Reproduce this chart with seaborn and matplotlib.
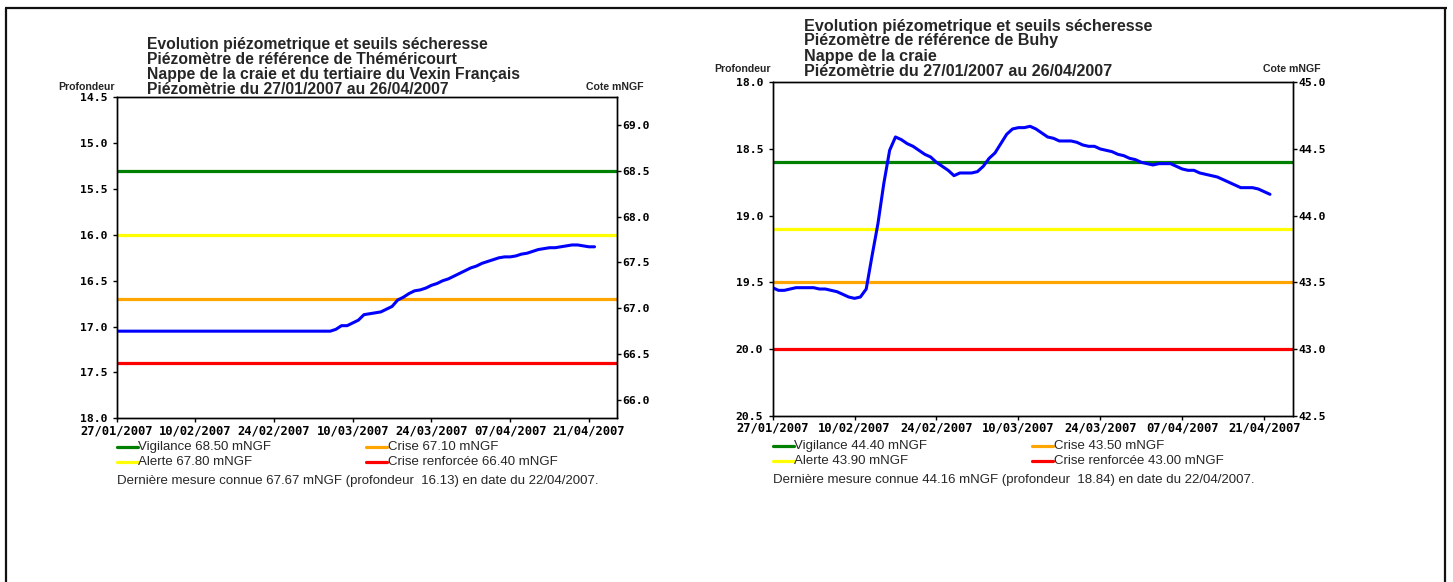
import numpy as np
import pandas as pd
import matplotlib
matplotlib.use("Agg")
import matplotlib.pyplot as plt
from matplotlib.lines import Line2D
import seaborn as sns

# ---------------------------------------------------------------- data
period_start = "2007-01-27"
period_end = "2007-04-26"
tick_labels = ["27/01/2007", "10/02/2007", "24/02/2007", "10/03/2007",
               "24/03/2007", "07/04/2007", "21/04/2007"]

threshold_names = ["Vigilance", "Crise", "Alerte", "Crise renforcée"]
threshold_colors = ["#008000", "#ffa500", "#ffff00", "#ff0000"]

# Théméricourt (cote mNGF = reference level - profondeur)
them_title = ["Evolution piézometrique et seuils sécheresse",
              "Piézomètre de référence de Théméricourt",
              "Nappe de la craie et du tertiaire du Vexin Français",
              "Piézomètrie du 27/01/2007 au 26/04/2007"]
them_ref = 83.80
them_thresholds = [68.50, 67.10, 67.80, 66.40]
them_days = [0, 38, 39, 40, 41, 42, 43, 44, 45, 46, 47, 48, 49, 50, 51, 52,
             53, 54, 55, 56, 57, 58, 59, 60, 61, 62, 63, 64, 65, 66, 67, 68,
             69, 70, 71, 72, 73, 74, 75, 76, 77, 78, 79, 80, 81, 82, 83, 84, 85]
them_depth = [17.05, 17.05, 17.03, 16.99, 16.99, 16.96, 16.93, 16.87, 16.86,
              16.85, 16.84, 16.81, 16.78, 16.71, 16.68, 16.64, 16.61, 16.60,
              16.58, 16.55, 16.53, 16.50, 16.48, 16.45, 16.42, 16.39, 16.36,
              16.34, 16.31, 16.29, 16.27, 16.25, 16.24, 16.24, 16.23, 16.21,
              16.20, 16.18, 16.16, 16.15, 16.14, 16.14, 16.13, 16.12, 16.11,
              16.11, 16.12, 16.13, 16.13]
them_depth_lim = (14.5, 18.0)
them_depth_ticks = [14.5, 15.0, 15.5, 16.0, 16.5, 17.0, 17.5, 18.0]
them_cote_ticks = [66.0, 66.5, 67.0, 67.5, 68.0, 68.5, 69.0]

# Buhy
buhy_title = ["Evolution piézometrique et seuils sécheresse",
              "Piézomètre de référence de Buhy",
              "Nappe de la craie",
              "Piézomètrie du 27/01/2007 au 26/04/2007"]
buhy_ref = 63.00
buhy_thresholds = [44.40, 43.50, 43.90, 43.00]
buhy_days = list(range(0, 86))
buhy_depth = [19.54, 19.56, 19.56, 19.55, 19.54, 19.54, 19.54, 19.54, 19.55,
              19.55, 19.56, 19.57, 19.59, 19.61, 19.62, 19.61, 19.55, 19.30,
              19.06, 18.76, 18.51, 18.41, 18.43, 18.46, 18.48, 18.51, 18.54,
              18.56, 18.60, 18.63, 18.66, 18.70, 18.68, 18.68, 18.68, 18.67,
              18.63, 18.57, 18.53, 18.46, 18.39, 18.35, 18.34, 18.34, 18.33,
              18.35, 18.38, 18.41, 18.42, 18.44, 18.44, 18.44, 18.45, 18.47,
              18.48, 18.48, 18.50, 18.51, 18.52, 18.54, 18.55, 18.57, 18.58,
              18.60, 18.61, 18.62, 18.61, 18.61, 18.61, 18.63, 18.65, 18.66,
              18.66, 18.68, 18.69, 18.70, 18.71, 18.73, 18.75, 18.77, 18.79,
              18.79, 18.79, 18.80, 18.82, 18.84]
buhy_depth_lim = (18.0, 20.5)
buhy_depth_ticks = [18.0, 18.5, 19.0, 19.5, 20.0, 20.5]
buhy_cote_ticks = [42.5, 43.0, 43.5, 44.0, 44.5, 45.0]

# ---------------------------------------------------------------- style
sns.set_style("ticks")
plt.rcParams["font.family"] = ["Liberation Sans", "DejaVu Sans"]

W, H = 1453, 582
fig = plt.figure(figsize=(W / 100, H / 100), dpi=100)
fig.patch.set_facecolor("white")


def fx(px):
    return px / W


def fy(py):
    return 1 - py / H


XTICK_FONT = dict(family="DejaVu Sans Mono", weight="bold", size=8.7)
YTICK_FONT = dict(family="DejaVu Sans Mono", weight="bold", size=8.2)
LABEL_FONT = dict(family=["Liberation Sans", "DejaVu Sans"], weight="bold",
                  size=7.6)
LEGEND_SIZE = 9.5


def draw_panel(box, title, title_xy, title_size, ref, thresholds, days, depth,
               depth_lim, depth_ticks, cote_ticks, legend_xy, legend_col2):
    x0, x1, top, bottom = box
    ax = fig.add_axes([fx(x0), fy(bottom), fx(x1) - fx(x0), fy(top) - fy(bottom)])

    dates = pd.to_datetime(period_start) + pd.to_timedelta(days, unit="D")
    df = pd.DataFrame({"date": dates, "profondeur": depth})

    # drought thresholds, converted to depth
    for cote, color in zip(thresholds, threshold_colors):
        ax.axhline(ref - cote, color=color, lw=2.3, zorder=2)

    sns.lineplot(data=df, x="date", y="profondeur", ax=ax, color="#0000ff",
                 lw=2.2, zorder=3)

    ax.set_xlim(pd.Timestamp(period_start), pd.Timestamp(period_end))
    ax.set_ylim(depth_lim[1], depth_lim[0])
    ax.set_xlabel("")
    ax.set_ylabel("")
    ax.set_yticks(depth_ticks)
    ax.set_yticklabels([f"{v:.1f}" for v in depth_ticks], fontdict=YTICK_FONT)
    tick_pos = pd.to_datetime(tick_labels, format="%d/%m/%Y")
    ax.set_xticks(tick_pos)
    ax.set_xticklabels(tick_labels, fontdict=XTICK_FONT)
    ax.tick_params(direction="out", length=3.2, width=1, colors="black")
    ax.tick_params(axis="x", pad=1)
    ax.tick_params(axis="y", pad=3.5)
    for s in ax.spines.values():
        s.set_visible(True)
        s.set_linewidth(1)
        s.set_color("black")

    # elevation scale on the right
    ax2 = ax.twinx()
    ax2.set_ylim(ref - depth_lim[1], ref - depth_lim[0])
    ax2.set_yticks(cote_ticks)
    ax2.set_yticklabels([f"{v:.1f}" for v in cote_ticks], fontdict=YTICK_FONT)
    ax2.tick_params(direction="out", length=3.2, width=1, pad=0.3, colors="black")
    for s in ax2.spines.values():
        s.set_linewidth(1)
        s.set_color("black")

    # titles
    tx, ty = title_xy
    for i, line in enumerate(title):
        fig.text(fx(tx), fy(ty + i * 15), line, fontsize=title_size,
                 weight="bold", va="center", ha="left")
    fig.text(fx(x0 - 2), fy(ty + 3 * 15 - 2), "Profondeur", ha="right",
             va="center", fontdict=LABEL_FONT)
    fig.text(fx(x1 + 27), fy(ty + 3 * 15 - 2), "Cote mNGF", ha="right",
             va="center", fontdict=LABEL_FONT)

    # legend of thresholds
    lx, ly = legend_xy
    order = [(0, lx, ly), (1, legend_col2, ly), (2, lx, ly + 15),
             (3, legend_col2, ly + 15)]
    for idx, px, py in order:
        fig.add_artist(Line2D([fx(px), fx(px + 21)], [fy(py), fy(py)],
                              color=threshold_colors[idx], lw=2.3))
        fig.text(fx(px + 21.5), fy(py), f"{threshold_names[idx]} {thresholds[idx]:.2f} mNGF",
                 fontsize=LEGEND_SIZE, va="center", ha="left")
    last_depth = depth[-1]
    last_date = (pd.to_datetime(period_start) + pd.Timedelta(days=days[-1])).strftime("%d/%m/%Y")
    fig.text(fx(lx), fy(ly + 34),
             f"Dernière mesure connue {ref - last_depth:.2f} mNGF "
             f"(profondeur  {last_depth:.2f}) en date du {last_date}.",
             fontsize=LEGEND_SIZE, va="center", ha="left")
    return ax


draw_panel((116.6, 617.0, 97.3, 418.3), them_title, (147, 44), 11.3, them_ref,
           them_thresholds, them_days, them_depth, them_depth_lim,
           them_depth_ticks, them_cote_ticks, (117, 447), 366)

draw_panel((772.6, 1293.4, 82.3, 415.7), buhy_title, (804, 26), 11.6, buhy_ref,
           buhy_thresholds, buhy_days, buhy_depth, buhy_depth_lim,
           buhy_depth_ticks, buhy_cote_ticks, (773, 446), 1032)

# page frame
frame_kw = dict(color="#111111", lw=1.6, solid_capstyle="butt")
fig.add_artist(Line2D([fx(5), fx(1447)], [fy(8), fy(8)], **frame_kw))
fig.add_artist(Line2D([fx(6), fx(6)], [fy(8), fy(582)], **frame_kw))
fig.add_artist(Line2D([fx(1445), fx(1445)], [fy(8), fy(582)], **frame_kw))

fig.savefig("out.png", dpi=100, facecolor="white")
